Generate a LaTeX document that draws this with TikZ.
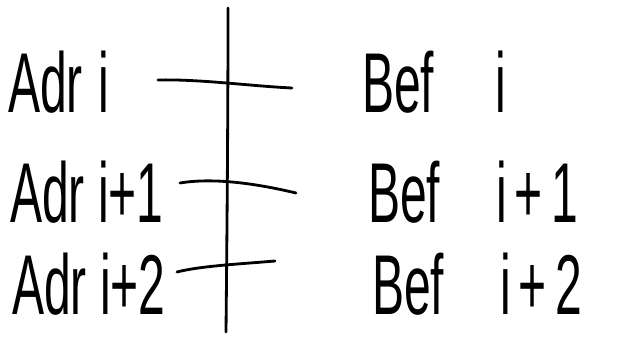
\documentclass[tikz,border=0pt]{standalone}
\usepackage{fontspec}
\setmainfont{Liberation Sans}
\usetikzlibrary{positioning}
\definecolor{encre}{RGB}{0,0,0}

\begin{document}
\begin{tikzpicture}[x=0.03cm,y=-0.03cm,
		mot/.style={anchor=base west,inner sep=0pt,text=encre,xscale=0.82,yscale=1.45,
			font=\fontsize{50}{54}\selectfont},
		trait/.style={draw=encre,line width=2.4pt,line cap=round}]
	\useasboundingbox (0,0) rectangle (621,336);
	
	% axe vertical
	\coordinate (haut) at (228,8);
	\coordinate (bas) at (226,332);
	\draw[trait] (haut) .. controls (228,120) and (227,230) .. (bas);
	
	% traits horizontaux
	\coordinate (g1) at (158,80);   \coordinate (d1) at (292,88);
	\coordinate (g2) at (180,183);  \coordinate (d2) at (296,193);
	\coordinate (g3) at (177,272);  \coordinate (d3) at (275,261);
	\draw[trait] (g1) .. controls (200,79) and (250,86) .. (d1);
	\draw[trait] (g2) .. controls (210,178) and (250,182) .. (d2);
	\draw[trait] (g3) .. controls (200,266) and (240,264) .. (d3);
	
	% adresses
	\node[mot] (adr1) at (8,112) {Adr\,\,i};
	\node[mot] (adr2) at (10,222) {Adr i+1};
	\node[mot] (adr3) at (12,314) {Adr i+2};
	
	% befehle
	\node[mot] (bef1) at (362,112) {Bef\quad\;i};
	\node[mot] (bef2) at (368,222) {Bef\quad\,i\,+\,1};
	\node[mot] (bef3) at (372,314) {Bef\quad\,i\,+\,2};
\end{tikzpicture}
\end{document}
